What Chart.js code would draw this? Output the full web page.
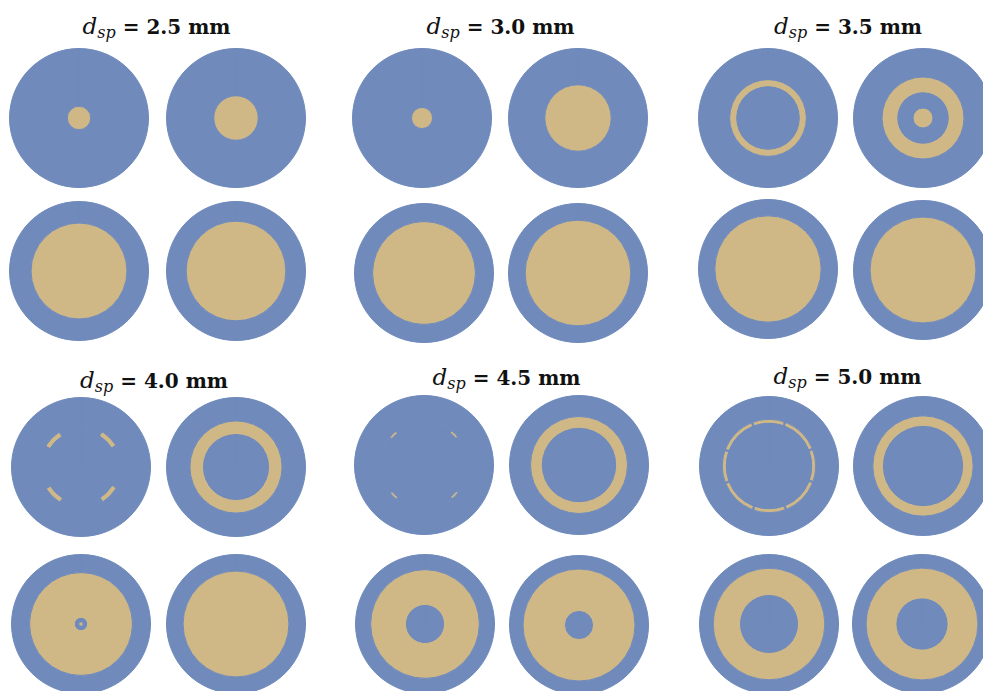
<!DOCTYPE html>
<html>
<head>
<meta charset="utf-8">
<script src="https://cdn.jsdelivr.net/npm/chart.js@4.4.1/dist/chart.umd.min.js"></script>
<style>
  html, body { margin: 0; padding: 0; background: #fff; }
  #fig { position: relative; width: 983px; height: 691px; overflow: hidden; background: #fff; }
  #fig canvas { position: absolute; }
  .ttl {
    position: absolute; white-space: nowrap; transform: translateX(-50%);
    font-family: "DejaVu Serif", "Liberation Serif", serif; font-weight: bold;
    font-size: 20px; line-height: 20px; color: #111;
  }
  .ttl i { font-weight: normal; font-size: 23px; }
  .ttl sub { font-style: italic; font-weight: normal; font-size: 16px; position: relative; top: 4px; vertical-align: baseline; line-height: 0; }
</style>
</head>
<body>
<div id="fig"></div>
<script>
// spacer diameter of each panel, mm
const diameters = ['2.5', '3.0', '3.5', '4.0', '4.5', '5.0'];

// Tan-phase bands of the four cross-sections in each panel, as fractions of the
// disk radius [inner, outer]. An optional third entry lists angular runs in degrees,
// clockwise from 12 o'clock, alternating matrix / tan.
const bands25 = [[[0, 0.168]], [[0, 0.320]], [[0, 0.690]], [[0, 0.717]]];
const bands30 = [[[0, 0.152]], [[0, 0.478]], [[0, 0.740]], [[0, 0.760]]];
const bands35 = [[[0.465, 0.552]], [[0, 0.144], [0.378, 0.590]], [[0, 0.765]], [[0, 0.762]]];
const corners40 = [32, 26, 64, 26, 64, 26, 64, 26, 32];
const bands40 = [[[0.530, 0.590, corners40]], [[0.483, 0.663]], [[0, 0.032], [0.096, 0.740]], [[0, 0.762]]];
const corners45 = [40, 10, 80, 10, 80, 10, 80, 10, 40];
const bands45 = [[[0.608, 0.634, corners45]], [[0.543, 0.698]], [[0.282, 0.782]], [[0.210, 0.806]]];
const broken50 = [0, 19, 3, 45, 3, 38, 3, 45, 3, 38, 3, 45, 3, 38, 3, 45, 3, 19];
const bands50 = [[[0.630, 0.672, broken50]], [[0.585, 0.722]], [[0.425, 0.803]], [[0.376, 0.805]]];

const panelBands = [bands25, bands30, bands35, bands40, bands45, bands50];

// page layout: circle centres per panel, title centre and baseline
const circleCentres = [
  [[79, 117.5], [235.5, 117.5], [79, 270.5], [235.5, 270.5]],
  [[422, 117.5], [577.5, 117.5], [424, 272.5], [577.5, 272.5]],
  [[768, 117.5], [922.5, 117.5], [768, 268.5], [922.5, 270]],
  [[80.5, 466.5], [235.5, 466.5], [80.5, 624], [235.5, 624]],
  [[424, 465], [578.5, 465], [424.5, 624], [578.5, 624.5]],
  [[768.5, 466], [922.5, 466], [768.5, 624], [921.5, 624]]
];
const titleAnchors = [[156.5, 31.5], [500.5, 31.5], [848, 32], [154, 386], [506.5, 382.5], [847.5, 381.5]];

const MATRIX = 'rgb(111, 138, 187)';
const PHASE = 'rgb(208, 184, 134)';
const SIZE = 140;

const fig = document.getElementById('fig');

// Turn a band list into concentric doughnut rings, outermost first.
function ringsFor(bands) {
  const sorted = bands.slice().sort((a, b) => b[1] - a[1]);
  const rings = [];
  let edge = 1;
  for (const [inner, outer, runs] of sorted) {
    if (edge - outer > 1e-6) rings.push({ weight: edge - outer, data: [1], colors: [MATRIX] });
    if (runs) {
      rings.push({ weight: outer - inner, data: runs, colors: runs.map((_, i) => (i % 2 ? PHASE : MATRIX)) });
    } else {
      rings.push({ weight: outer - inner, data: [1], colors: [PHASE] });
    }
    edge = inner;
  }
  if (edge > 1e-6) rings.push({ weight: edge, data: [1], colors: [MATRIX] });
  return rings;
}

function drawSection(bands, cx, cy) {
  const canvas = document.createElement('canvas');
  canvas.width = SIZE; canvas.height = SIZE;
  canvas.style.width = SIZE + 'px'; canvas.style.height = SIZE + 'px';
  canvas.style.left = Math.round(cx - SIZE / 2) + 'px';
  canvas.style.top = Math.round(cy - SIZE / 2) + 'px';
  fig.appendChild(canvas);
  const rings = ringsFor(bands);
  new Chart(canvas, {
    type: 'doughnut',
    data: {
      datasets: rings.map(r => ({
        data: r.data,
        backgroundColor: r.colors,
        borderColor: r.colors,
        borderWidth: 1,
        weight: r.weight,
        hoverOffset: 0
      }))
    },
    options: {
      responsive: false,
      animation: false,
      devicePixelRatio: 1,
      cutout: 0,
      layout: { padding: 0 },
      events: [],
      plugins: { legend: { display: false }, tooltip: { enabled: false } }
    }
  });
}

panelBands.forEach((bands, p) => {
  bands.forEach((b, k) => drawSection(b, circleCentres[p][k][0], circleCentres[p][k][1]));
  const t = document.createElement('div');
  t.className = 'ttl';
  t.innerHTML = '<i>d</i><sub>sp</sub> = ' + diameters[p] + ' mm';
  t.style.left = titleAnchors[p][0] + 'px';
  t.style.top = (titleAnchors[p][1] - 16) + 'px';
  fig.appendChild(t);
});
</script>
</body>
</html>
